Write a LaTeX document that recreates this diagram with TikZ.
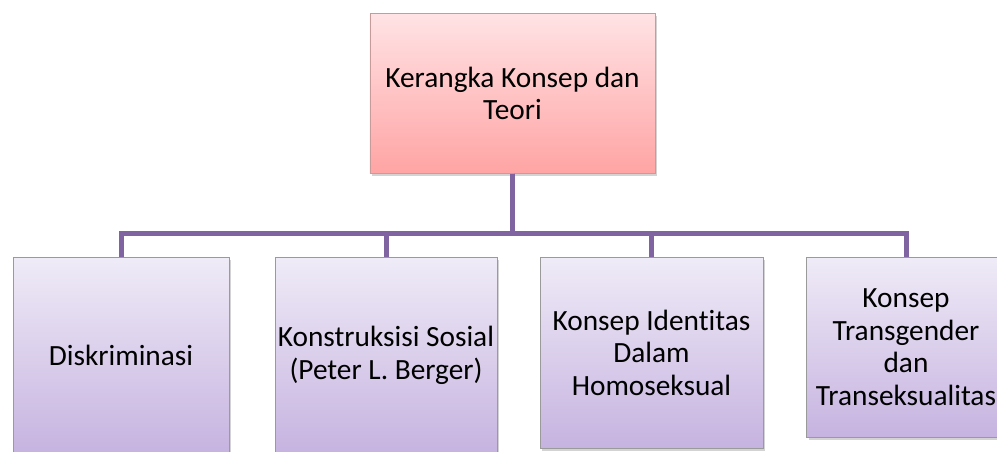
\documentclass[tikz,border=0pt]{standalone}
\usepackage{fontspec}
\setmainfont{Carlito}[Ligatures=NoCommon]
\usepackage{tikz}
\usetikzlibrary{shadows,positioning}
\definecolor{linkpurple}{HTML}{8064A2}
\definecolor{roseTop}{HTML}{FFE3E5}
\definecolor{roseBottom}{HTML}{FFA4A4}
\definecolor{roseEdge}{HTML}{C89A9A}
\definecolor{lilacTop}{HTML}{EFEBF7}
\definecolor{lilacBottom}{HTML}{C6B3E0}
\definecolor{lilacEdge}{HTML}{9A9A9A}
\tikzset{
  every picture/.style = {
    x = 0.75pt,
    y = -0.75pt,
  }
  ,
  concept/.style = {
    rectangle,
    anchor = north,
    align = center,
    inner sep = 2pt,
    font = \fontsize{22}{24.5}\selectfont,
    draw = lilacEdge,
    top color = lilacTop,
    bottom color = lilacBottom,
    drop shadow = {opacity = 0.35, shadow xshift = 1.5pt, shadow yshift = -2pt}
  }
  , % the heading box
  root/.style = {
    concept,
    draw = roseEdge,
    top color = roseTop,
    bottom color = roseBottom,
    minimum width = 214pt,
    minimum height = 120pt
  }
  , % connectors of the chart
  link/.style = {
    draw = linkpurple,
    line width = 3.75pt
  }
}
\begin{document}
\begin{tikzpicture}
\useasboundingbox (0,0) rectangle (997,451);
\clip (0,0) rectangle (997,451);

\node [root] (teori) at (512.5,13) {Kerangka Konsep dan\\Teori};

\node [concept, minimum width = 162pt, minimum height = 147pt] (diskrim) at (121,257) {Diskriminasi};
\node [concept, minimum width = 166.5pt, minimum height = 147pt] (konstruksi) at (386,257) {Konstruksisi Sosial\\(Peter L. Berger)};
\node [concept, minimum width = 167pt, minimum height = 143pt] (identitas) at (651.5,257) {Konsep Identitas\\Dalam\\Homoseksual};
\node [concept, minimum width = 149pt, minimum height = 135pt] (transgender) at (906,257) {Konsep\\Transgender\\dan\\Transeksualitas};

\foreach \child in {diskrim,konstruksi,identitas,transgender}
  \draw [link] (teori.south) -- ++(0,60) -| (\child.north);
\end{tikzpicture}
\end{document}
